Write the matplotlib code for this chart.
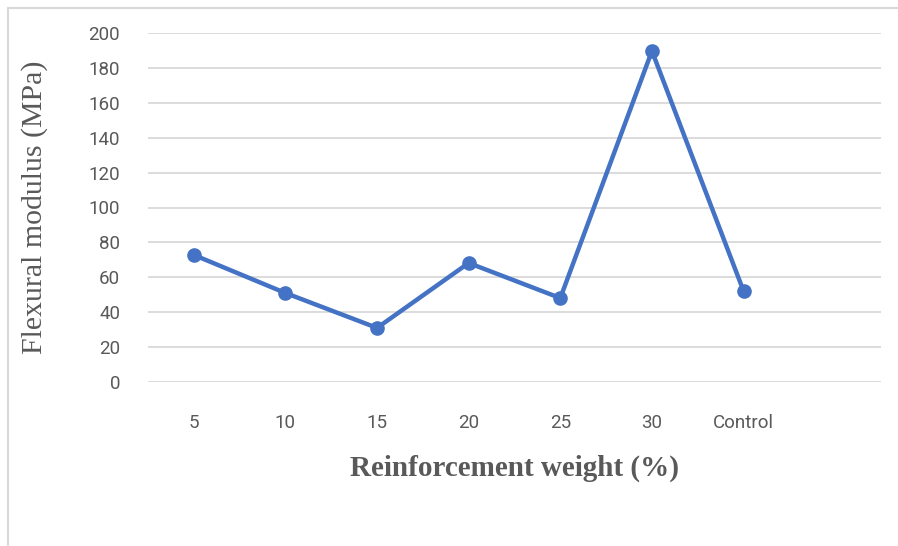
import matplotlib
matplotlib.use('Agg')
import matplotlib.pyplot as plt
from matplotlib.patches import Rectangle

# dados
categorias = ['5', '10', '15', '20', '25', '30', 'Control']
modulo = [72.8, 51.0, 31.0, 68.2, 48.1, 189.7, 52.1]

AZUL = '#4472C4'
CINZA = '#595959'

fig = plt.figure(figsize=(8.98, 5.46), dpi=100)
ax = fig.add_axes([148 / 898, 1 - 382 / 546, (881 - 148) / 898, (382 - 33) / 546])

x = list(range(len(categorias)))
ax.plot(x, modulo, color=AZUL, linewidth=3.2, marker='o', markersize=9.5, zorder=3)

ax.set_xlim(-0.5, len(categorias) + 0.5)
ax.set_ylim(0, 200)
ax.set_yticks(range(0, 201, 20))
ax.set_xticks(x)
ax.set_xticklabels(categorias)

ax.grid(axis='y', color='#D9D9D9', linewidth=1.3)
ax.set_axisbelow(True)
for lado in ['top', 'right', 'left', 'bottom']:
    ax.spines[lado].set_visible(False)
ax.tick_params(axis='both', length=0, labelsize=13.5, labelcolor=CINZA)
ax.tick_params(axis='x', pad=23)
ax.tick_params(axis='y', pad=20)
for t in ax.get_xticklabels() + ax.get_yticklabels():
    t.set_fontfamily('Roboto')

ax.set_ylabel('Flexural modulus (MPa)', fontfamily='Liberation Serif', fontsize=21.5,
              color=CINZA)
ax.yaxis.set_label_coords(-(148 - 35) / (881 - 148), (382 - 207) / (382 - 33))
ax.set_xlabel('Reinforcement weight (%)', fontfamily='Liberation Serif', fontsize=21,
              fontweight='bold', color=CINZA)
ax.xaxis.set_label_coords((515 - 148) / (881 - 148), -(468 - 382) / (382 - 33))
ax.xaxis.label.set_va('center')
ax.yaxis.label.set_va('center')

# moldura da área do gráfico (cortada à direita e embaixo)
fig.patches.append(Rectangle((8 / 898, -0.1), 1.2, 1 - 8 / 546 + 0.1, transform=fig.transFigure,
                             fill=False, edgecolor='#D9D9D9', linewidth=1.5))

plt.savefig('out.png', dpi=100)
